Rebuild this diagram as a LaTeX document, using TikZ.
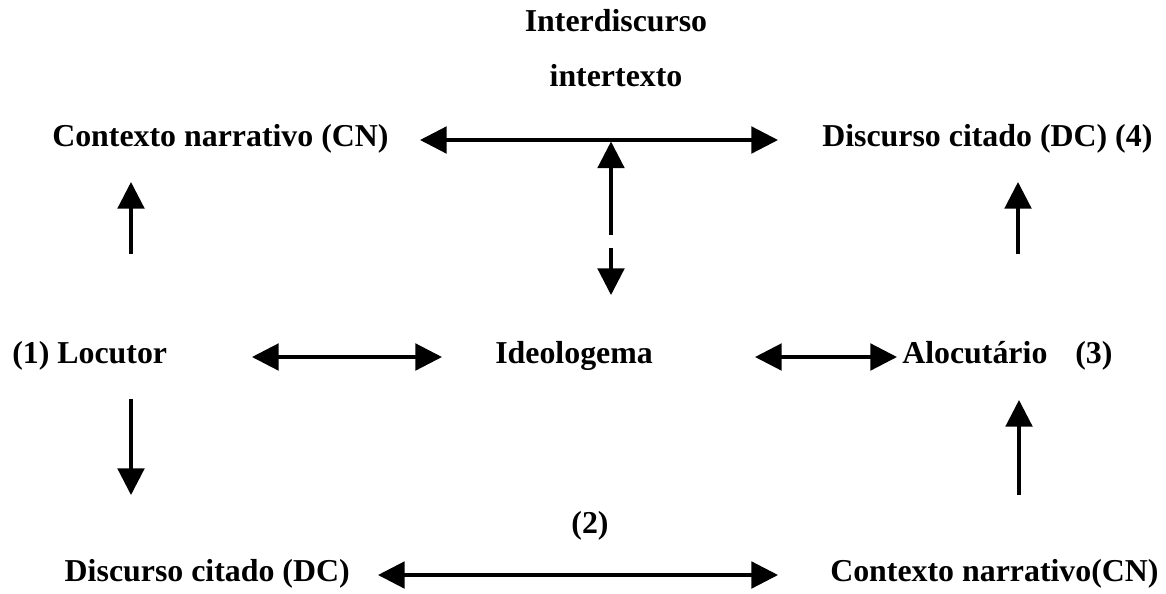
\documentclass[tikz,border=0pt]{standalone}
\usepackage{fontspec}
\setmainfont{Liberation Serif}
\usetikzlibrary{arrows.meta}
\begin{document}
\begin{tikzpicture}[x=0.75pt,y=-0.75pt,
  lbl/.style={font=\fontsize{23.9}{28}\selectfont\bfseries, inner sep=0pt, text height=0.7em, text depth=0.2em},
  both/.style={line width=2.4pt, {Triangle[length=20pt,width=20pt]}-{Triangle[length=20pt,width=20pt]}},
  one/.style={line width=2.4pt, -{Triangle[length=20pt,width=20pt]}}]
\useasboundingbox (0,0) rectangle (1166,593);
% texts
\node[lbl] (interd) at (616,28) {Interdiscurso};
\node[lbl] (intert) at (616,83) {intertexto};
\node[lbl,anchor=west] (cn1) at (52,143) {Contexto narrativo (CN)};
\node[lbl,anchor=west] (dc4) at (822,143) {Discurso citado (DC) (4)};
\node[lbl,anchor=west] (loc) at (12,360) {(1) Locutor};
\node[lbl,anchor=west] (ideo) at (495,360) {Ideologema};
\node[lbl,anchor=west] (aloc) at (902,360) {Alocutário};
\node[lbl,anchor=west] (n3) at (1075,360) {(3)};
\node[lbl] (n2) at (590,530) {(2)};
\node[lbl,anchor=east] (dc) at (350,578) {Discurso citado (DC)};
\node[lbl,anchor=west] (cn2) at (830,578) {Contexto narrativo(CN)};
% connector ends
\coordinate (t1) at (420,140); \coordinate (t2) at (778,140);
\coordinate (m1) at (611,235); \coordinate (m2) at (611,141.5);
\coordinate (m3) at (611,248); \coordinate (m4) at (611,295);
\coordinate (l1) at (131,254); \coordinate (l2) at (131,182);
\coordinate (r1) at (1018,254); \coordinate (r2) at (1018,182);
\coordinate (h1) at (252,357); \coordinate (h2) at (442,357);
\coordinate (h3) at (755,357); \coordinate (h4) at (897,357);
\coordinate (d1) at (131,399); \coordinate (d2) at (131,495);
\coordinate (u1) at (1019,495); \coordinate (u2) at (1019,400);
\coordinate (b1) at (378,575); \coordinate (b2) at (778,575);
% connectors
\draw[both] (t1) -- (t2);
\draw[one] (m1) -- (m2);
\draw[one] (m3) -- (m4);
\draw[one] (l1) -- (l2);
\draw[one] (r1) -- (r2);
\draw[both] (h1) -- (h2);
\draw[both] (h3) -- (h4);
\draw[one] (d1) -- (d2);
\draw[one] (u1) -- (u2);
\draw[both] (b1) -- (b2);
\end{tikzpicture}
\end{document}
